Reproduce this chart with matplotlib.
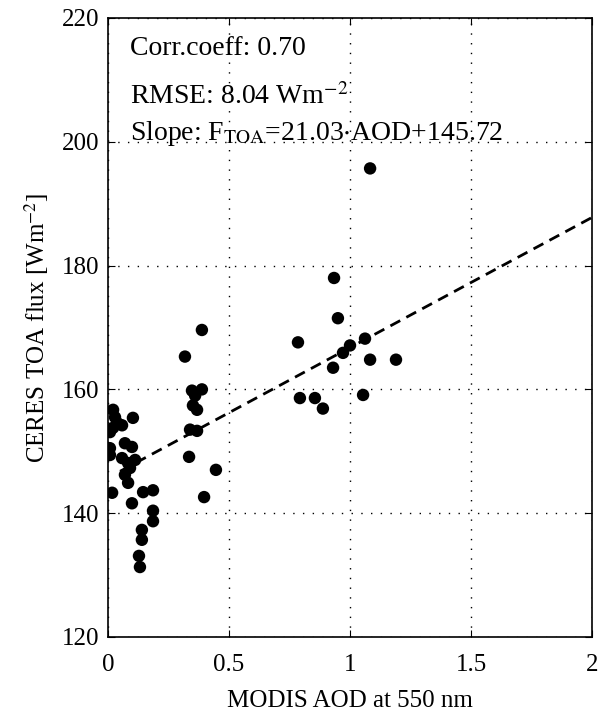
import matplotlib
matplotlib.use("Agg")
import matplotlib.pyplot as plt
import numpy as np

plt.rcParams['font.family'] = ['Liberation Serif', 'DejaVu Serif']
plt.rcParams['mathtext.fontset'] = 'stix'

aod = [0.021, 0.029, 0.041, 0.058, 0.103, 0.021, 0.008, 0.070, 0.099, 0.008,
       0.008, 0.058, 0.083, 0.112, 0.091, 0.070, 0.083, 0.017, 0.145, 0.186,
       0.099, 0.186, 0.186, 0.140, 0.140, 0.128, 0.132,
       0.446, 0.397, 0.335, 0.318, 0.347, 0.388, 0.360, 0.351, 0.368, 0.339,
       0.368, 0.388,
       0.934, 0.950, 0.785, 1.062, 1.000, 0.971, 1.083, 1.190, 0.930, 0.793,
       0.855, 0.888, 1.054, 1.083]
flux = [156.7, 155.5, 154.5, 154.2, 155.4, 153.8, 153.1, 151.3, 150.7, 150.5,
        149.4, 148.9, 148.1, 148.6, 147.3, 146.2, 144.9, 143.3, 143.4, 143.7,
        141.6, 140.4, 138.7, 137.3, 135.7, 133.1, 131.3,
        147.0, 142.6, 149.1, 165.3, 159.8, 160.0, 159.0, 157.4, 156.7, 153.5,
        153.3, 169.6,
        178.0, 171.5, 167.6, 168.2, 167.1, 165.9, 164.8, 164.8, 163.5, 158.6,
        158.6, 156.9, 159.1, 195.7]

slope = 21.03
intercept = 145.72
fit_x = [0.05, 2.0]

xticks = [0, 0.5, 1, 1.5, 2]
xticklabels = ['0', '0.5', '1', '1.5', '2']
yticks = [120, 140, 160, 180, 200, 220]

fig = plt.figure(figsize=(5.98, 7.2), dpi=100)
ax = fig.add_axes([0.1806, 0.1153, 0.8094, 0.8597])

fx = np.array(fit_x)
ax.plot(fx, slope * fx + intercept, color='black', lw=2.0, dashes=(4, 2.5), zorder=2)
ax.scatter(aod, flux, s=80, color='black', edgecolors='none', zorder=3)

ax.set_xlim(0, 2)
ax.set_ylim(120, 220)
ax.set_xticks(xticks)
ax.set_xticklabels(xticklabels)
ax.set_yticks(yticks)
ax.grid(True, color='black', linestyle=(0, (1, 6)), linewidth=1.0)
ax.tick_params(direction='in', top=True, right=True, labelsize=18, length=5)
ax.tick_params(axis='x', pad=12)
ax.tick_params(axis='y', pad=6)
for s in ax.spines.values():
    s.set_linewidth(1.2)

ax.set_xlabel('MODIS AOD at 550 nm', fontsize=18, labelpad=10)
ax.set_ylabel(r'CERES TOA flux [Wm$^{-2}$]', fontsize=18, labelpad=8)

txt_kw = dict(transform=ax.transAxes, fontsize=20, ha='left', va='baseline')
ax.text(0.045, 0.940, 'Corr.coeff: 0.70', **txt_kw)
ax.text(0.045, 0.861, r'RMSE: 8.04 Wm$^{-2}$', **txt_kw)
ax.text(0.045, 0.803, r'Slope: F$_{\mathrm{TOA}}$=21.03$\cdot$AOD+145.72', **txt_kw)

fig.savefig('out.png', dpi=100)
